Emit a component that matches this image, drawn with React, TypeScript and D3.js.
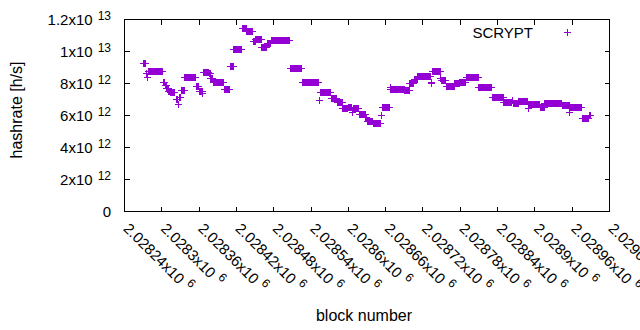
import React from 'react';
import * as d3 from 'd3';

// constant-hashrate runs: first block, last block, value (x10^12 h/s)
const runStart = [
  2028270, 2028275, 2028277, 2028279, 2028302, 2028306, 2028308, 2028311, 2028314, 2028323,
  2028327, 2028329, 2028331, 2028337, 2028355, 2028360, 2028366, 2028367, 2028376, 2028379,
  2028383, 2028401, 2028410, 2028416, 2028429, 2028437, 2028447, 2028451, 2028461, 2028470,
  2028476, 2028507, 2028526, 2028554, 2028555, 2028573, 2028582, 2028591, 2028600, 2028607,
  2028608, 2028618, 2028628, 2028630, 2028640, 2028653, 2028655, 2028667, 2028668, 2028691,
  2028699, 2028706, 2028712, 2028733, 2028734, 2028735, 2028749, 2028750, 2028758, 2028771,
  2028779, 2028790, 2028810, 2028832, 2028850, 2028864, 2028865, 2028874, 2028889, 2028890,
  2028909, 2028916, 2028944, 2028956, 2028957, 2028976, 2028988,
];
const runEnd = [
  2028274, 2028276, 2028277, 2028301, 2028305, 2028307, 2028310, 2028313, 2028320, 2028326,
  2028327, 2028330, 2028336, 2028354, 2028359, 2028365, 2028366, 2028375, 2028378, 2028382,
  2028400, 2028409, 2028415, 2028428, 2028436, 2028446, 2028450, 2028460, 2028469, 2028475,
  2028506, 2028525, 2028552, 2028554, 2028572, 2028581, 2028590, 2028599, 2028605, 2028607,
  2028617, 2028627, 2028629, 2028639, 2028652, 2028653, 2028666, 2028667, 2028690, 2028698,
  2028705, 2028711, 2028732, 2028733, 2028734, 2028748, 2028749, 2028757, 2028770, 2028778,
  2028789, 2028809, 2028831, 2028849, 2028863, 2028864, 2028873, 2028888, 2028889, 2028908,
  2028915, 2028943, 2028955, 2028956, 2028975, 2028987, 2028989,
];
const runValue = [
  9.23, 8.6, 8.4, 8.73, 8.08, 7.87, 7.67, 7.52, 7.42, 7.0,
  6.67, 7.1, 7.54, 8.35, 7.83, 7.51, 7.35, 8.71, 8.6, 8.3,
  8.04, 7.6, 9.04, 10.1, 11.42, 11.23, 10.6, 10.73, 10.28, 10.48,
  10.67, 8.92, 8.04, 6.96, 7.42, 7.04, 6.8, 6.42, 6.48, 6.2,
  6.42, 6.04, 5.9, 5.64, 5.48, 6.0, 6.48, 7.73, 7.65, 7.56,
  7.98, 8.23, 8.44, 7.98, 8.08, 8.73, 8.31, 8.19, 7.81, 7.98,
  8.06, 8.35, 7.73, 7.1, 6.8, 6.95, 6.76, 6.86, 6.45, 6.67,
  6.52, 6.73, 6.62, 6.2, 6.48, 5.79, 6.0,
];

const xTicks = [
  2028240, 2028300, 2028360, 2028420, 2028480, 2028540, 2028600,
  2028660, 2028720, 2028780, 2028840, 2028900, 2028960, 2029020,
];
const yTicks = [0, 2e12, 4e12, 6e12, 8e12, 1e13, 1.2e13];
const seriesName = 'SCRYPT';

const font = 'Liberation Sans, Arial, sans-serif';
const color = '#9400d3';

// gnuplot style "m x10^e"
function sci(v: number): [string, string] {
  if (v === 0) return ['0', ''];
  const e = Math.floor(Math.log10(v));
  const m = +(v / 10 ** e).toPrecision(6);
  return [`${m}x10`, `${e}`];
}

export default function App() {
  const x = d3.scaleLinear().domain([2028240, 2029020]).range([124.5, 609.5]);
  const y = d3.scaleLinear().domain([0, 1.2e13]).range([211.5, 19.5]);
  const snap = (v: number) => Math.round(v - 0.5) + 0.5;

  const points: [number, number][] = [];
  runStart.forEach((s, i) => {
    for (let b = s; b <= runEnd[i]; b++) points.push([b, runValue[i] * 1e12]);
  });
  const plus = (cx: number, cy: number) =>
    `M${cx - 3.5},${cy}H${cx + 3.5}M${cx},${cy - 3.5}V${cy + 3.5}`;
  const d = points.map(([b, v]) => plus(snap(x(b)), snap(y(v)))).join('');

  const [x0, x1] = x.range();
  const [y0, y1] = y.range();

  return (
    <svg width={640} height={330} style={{ position: 'absolute', left: 0, top: 0, background: '#fff' }}
      fontFamily={font}>
      <rect x={0} y={0} width={640} height={330} fill="#fff" />
      <g stroke="#000" strokeWidth={1} shapeRendering="crispEdges">
        {xTicks.map((t) => (
          <g key={t}>
            <line x1={snap(x(t))} x2={snap(x(t))} y1={y0} y2={y0 - 5} />
            <line x1={snap(x(t))} x2={snap(x(t))} y1={y1} y2={y1 + 5} />
          </g>
        ))}
        {yTicks.map((t) => (
          <g key={t}>
            <line x1={x0} x2={x0 + 5} y1={snap(y(t))} y2={snap(y(t))} />
            <line x1={x1} x2={x1 - 5} y1={snap(y(t))} y2={snap(y(t))} />
          </g>
        ))}
      </g>
      <g fontSize={15} fill="#000">
        {yTicks.map((t) => {
          const [m, e] = sci(t);
          return (
            <text key={t} x={111} y={y(t) + 5} textAnchor="end">
              {m}
              {e && <tspan dx={5} dy={-5} fontSize={12}>{e}</tspan>}
            </text>
          );
        })}
        {xTicks.map((t) => {
          const [m, e] = sci(t);
          return (
            <text key={t} transform={`translate(${x(t) + 2},225.5) rotate(45)`} dominantBaseline="central">
              {m}
              <tspan dx={5} dy={-5} fontSize={12}>{e}</tspan>
            </text>
          );
        })}
      </g>
      <path d={d} stroke={color} strokeWidth={1} fill="none" shapeRendering="crispEdges" />
      <path d={d3.scaleLinear ? plus(567.5, 32.5) : ''} stroke={color} strokeWidth={1} fill="none"
        shapeRendering="crispEdges" />
      <text x={533} y={37.5} fontSize={15} textAnchor="end">{seriesName}</text>
      <rect x={x0} y={y1} width={x1 - x0} height={y0 - y1} fill="none" stroke="#000" strokeWidth={1}
        shapeRendering="crispEdges" />
      <text transform="translate(22,110) rotate(-90)" fontSize={16} textAnchor="middle">hashrate [h/s]</text>
      <text x={364} y={321} fontSize={16} textAnchor="middle">block number</text>
    </svg>
  );
}
